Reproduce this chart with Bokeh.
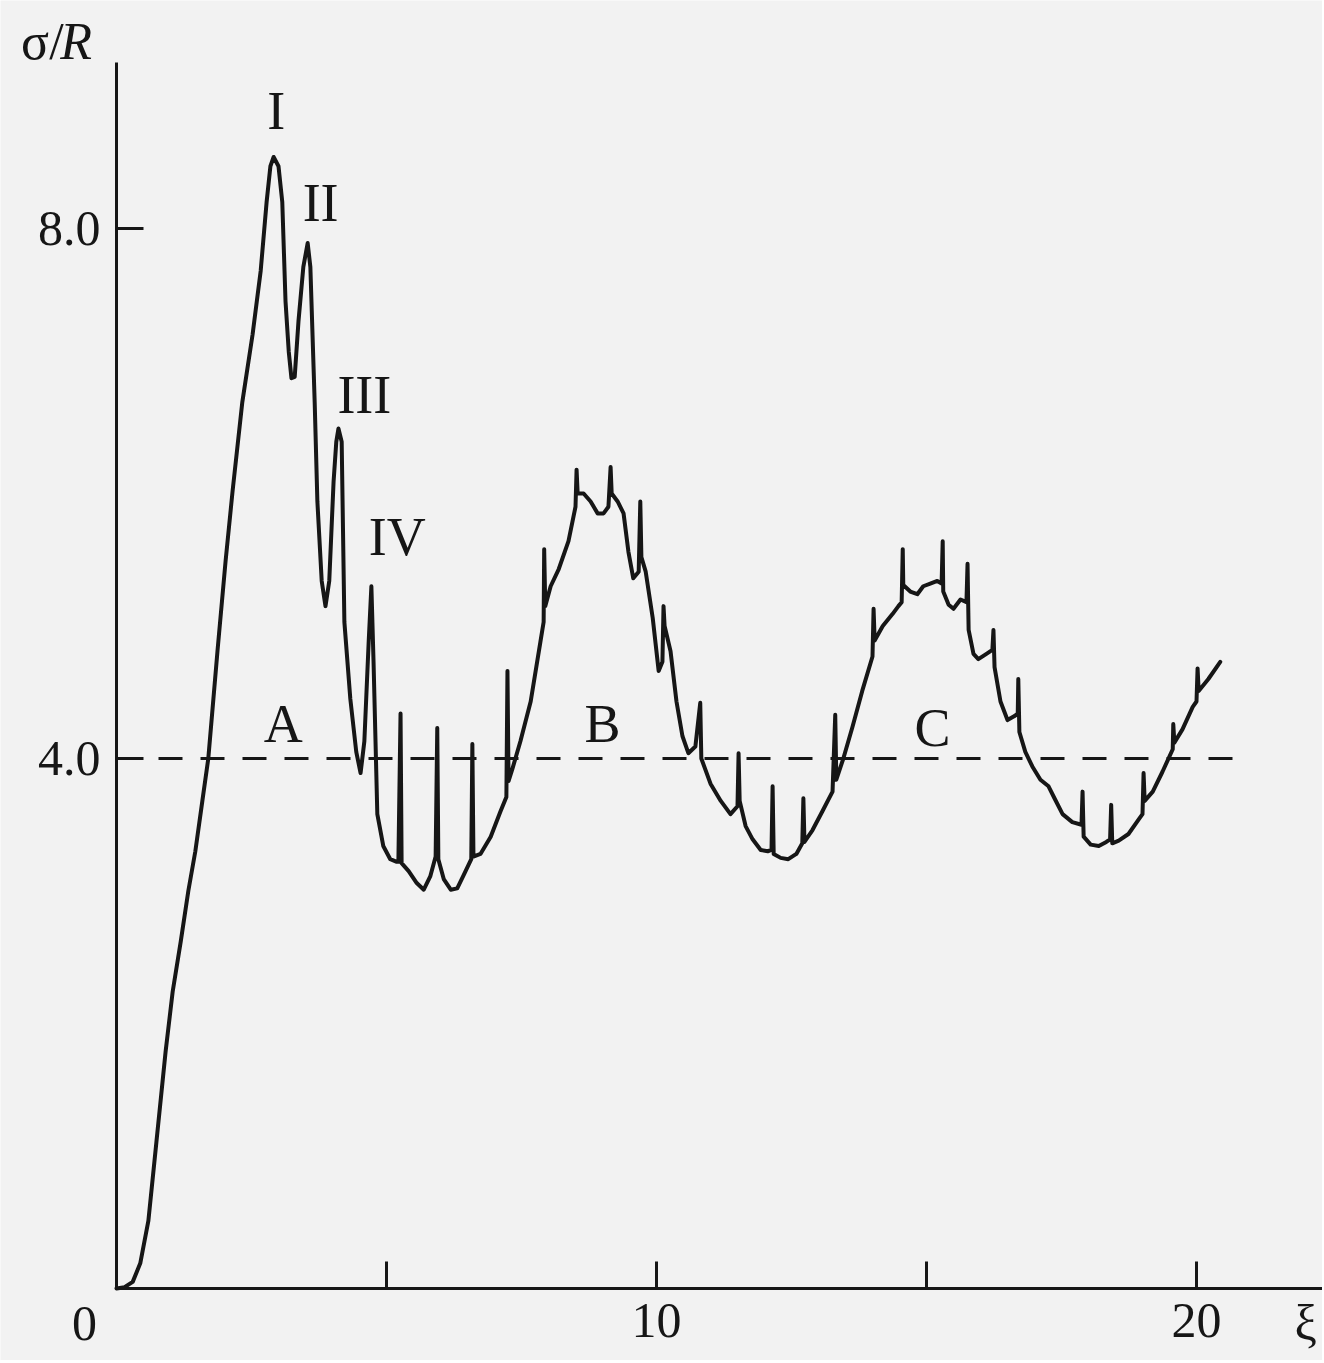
from bokeh.plotting import figure
from bokeh.models import Label, FixedTicker, Range1d, LinearAxis
from bokeh.embed import file_html
from bokeh.resources import INLINE

# ---- data (xi, sigma/R) ----
rise_x = [0, 0.15, 0.30, 0.44, 0.59, 0.74, 0.91, 1.04, 1.19, 1.33, 1.46, 1.59, 1.70, 1.87, 2.02, 2.15, 2.33, 2.52, 2.67, 2.78, 2.85, 2.91]
rise_y = [0, 0.01, 0.05, 0.19, 0.51, 1.11, 1.79, 2.24, 2.62, 3.00, 3.30, 3.68, 4.00, 4.81, 5.49, 6.02, 6.69, 7.20, 7.68, 8.20, 8.47, 8.54]

peaks_x = [3.00, 3.07, 3.13, 3.19, 3.24, 3.30, 3.37, 3.46, 3.54, 3.59, 3.67, 3.72, 3.80, 3.87, 3.94, 4.02, 4.07, 4.11, 4.17, 4.22, 4.33, 4.44, 4.52, 4.59, 4.67, 4.72]
peaks_y = [8.47, 8.20, 7.45, 7.07, 6.87, 6.88, 7.30, 7.71, 7.89, 7.71, 6.69, 5.94, 5.34, 5.15, 5.34, 6.09, 6.39, 6.49, 6.39, 5.03, 4.45, 4.05, 3.89, 4.13, 4.88, 5.30]

trough_a_x = [4.76, 4.83, 4.94, 5.07, 5.19, 5.22, 5.26, 5.28, 5.41, 5.56, 5.69, 5.81, 5.91, 5.94, 5.96, 6.06, 6.19, 6.31, 6.44, 6.57, 6.59, 6.61, 6.74, 6.93, 7.11, 7.22, 7.24, 7.26, 7.33, 7.48, 7.67, 7.85, 7.91, 7.92, 7.94]
trough_a_y = [4.73, 3.58, 3.34, 3.24, 3.22, 3.22, 4.34, 3.21, 3.15, 3.06, 3.01, 3.11, 3.26, 4.23, 3.24, 3.09, 3.01, 3.02, 3.13, 3.24, 4.11, 3.26, 3.28, 3.41, 3.60, 3.71, 4.66, 3.83, 3.92, 4.13, 4.43, 4.88, 5.03, 5.58, 5.15]

hump_b_x = [8.04, 8.19, 8.37, 8.50, 8.52, 8.54, 8.65, 8.78, 8.91, 9.02, 9.11, 9.15, 9.17, 9.28, 9.39, 9.48, 9.57, 9.67, 9.70, 9.72, 9.80, 9.93, 10.04, 10.11, 10.13, 10.15, 10.26, 10.37, 10.48, 10.59, 10.72, 10.81, 10.83, 11.00]
hump_b_y = [5.30, 5.43, 5.64, 5.90, 6.18, 6.00, 6.00, 5.94, 5.85, 5.85, 5.90, 6.20, 6.00, 5.94, 5.85, 5.56, 5.36, 5.41, 5.94, 5.52, 5.41, 5.06, 4.66, 4.73, 5.15, 5.00, 4.81, 4.43, 4.17, 4.04, 4.09, 4.42, 4.00, 3.81]

trough_b_x = [11.19, 11.37, 11.50, 11.52, 11.54, 11.65, 11.78, 11.93, 12.06, 12.13, 12.15, 12.17, 12.30, 12.44, 12.59, 12.70, 12.72, 12.74, 12.89, 13.07, 13.26, 13.31, 13.33, 13.46, 13.63, 13.81, 14.00, 14.02, 14.04]
trough_b_y = [3.68, 3.58, 3.64, 4.04, 3.68, 3.49, 3.39, 3.31, 3.30, 3.31, 3.79, 3.28, 3.25, 3.24, 3.28, 3.36, 3.70, 3.37, 3.46, 3.60, 3.75, 4.33, 3.84, 4.00, 4.24, 4.51, 4.77, 5.13, 4.89]

hump_c_x = [14.19, 14.37, 14.48, 14.54, 14.56, 14.57, 14.70, 14.83, 14.94, 15.07, 15.20, 15.28, 15.30, 15.31, 15.41, 15.50, 15.63, 15.74, 15.76, 15.78, 15.87, 15.96, 16.11, 16.22, 16.24, 16.26, 16.37, 16.50, 16.63, 16.69, 16.70, 16.72, 16.83, 16.96]
hump_c_y = [5.00, 5.09, 5.15, 5.18, 5.58, 5.31, 5.26, 5.24, 5.30, 5.32, 5.34, 5.32, 5.64, 5.26, 5.16, 5.13, 5.20, 5.18, 5.47, 4.97, 4.79, 4.75, 4.79, 4.82, 4.97, 4.69, 4.43, 4.29, 4.32, 4.34, 4.60, 4.20, 4.05, 3.94]

trough_c_x = [17.11, 17.26, 17.37, 17.52, 17.70, 17.87, 17.89, 17.91, 18.04, 18.19, 18.33, 18.40, 18.42, 18.44, 18.56, 18.74, 18.93, 19.00, 19.02, 19.04, 19.19, 19.37, 19.56, 19.57, 19.59, 19.74, 19.93, 20.00, 20.02, 20.04, 20.22, 20.44]
trough_c_y = [3.84, 3.79, 3.70, 3.58, 3.52, 3.50, 3.75, 3.41, 3.35, 3.34, 3.37, 3.39, 3.65, 3.36, 3.38, 3.43, 3.54, 3.58, 3.89, 3.68, 3.75, 3.90, 4.07, 4.26, 4.12, 4.22, 4.39, 4.43, 4.68, 4.51, 4.60, 4.73]

level_value = 4.0
level_x = [0, 21.0]

x_ticks = [5, 10, 15, 20]
x_tick_text = {5: "", 10: "10", 15: "", 20: "20"}
y_ticks = [4, 8]
y_tick_text = {4: "4.0", 8: "8.0"}

peak_names = ["I", "II", "III", "IV"]
peak_name_x = [2.96, 3.78, 4.59, 5.20]
peak_name_y = [8.89, 8.19, 6.74, 5.67]

zone_names = ["A", "B", "C"]
zone_name_x = [3.09, 9.00, 15.11]
zone_name_y = [4.26, 4.26, 4.23]

# ---- figure: the frame fills the canvas; axes are pinned at 0 ----
INK = "#161616"
PAPER = "#f2f2f2"
SERIF = "Liberation Serif"

W, H = 1322, 1360
X0, Y0 = 116, 1288          # pixel position of the origin
SX, SY = 54.0, 132.5        # pixels per unit
p = figure(width=W, height=H, output_backend="svg", toolbar_location=None,
           x_axis_type=None, y_axis_type=None,
           x_range=Range1d(-X0 / SX, (W - X0) / SX),
           y_range=Range1d(-(H - Y0) / SY, Y0 / SY),
           min_border_left=0, min_border_right=0, min_border_top=0, min_border_bottom=0)
p.background_fill_color = PAPER
p.border_fill_color = PAPER
p.outline_line_color = None
p.grid.visible = False

curve_x = rise_x + peaks_x + trough_a_x + hump_b_x + trough_b_x + hump_c_x + trough_c_x
curve_y = rise_y + peaks_y + trough_a_y + hump_b_y + trough_b_y + hump_c_y + trough_c_y

p.line(level_x, [level_value] * len(level_x), line_color=INK, line_width=3, line_dash="24 18")
p.line(curve_x, curve_y, line_color=INK, line_width=4, line_join="round", line_cap="round")

xax = LinearAxis(fixed_location=0, bounds=(0, (W - X0) / SX), ticker=FixedTicker(ticks=x_ticks),
                 major_label_overrides=x_tick_text, major_label_standoff=15)
yax = LinearAxis(fixed_location=0, bounds=(0, 9.25), ticker=FixedTicker(ticks=y_ticks),
                 major_label_overrides=y_tick_text, major_label_standoff=16)
for ax in (xax, yax):
    ax.axis_line_color = INK
    ax.axis_line_width = 3
    ax.major_tick_line_color = INK
    ax.major_tick_line_width = 3
    ax.major_tick_in = 27
    ax.major_tick_out = 0
    ax.minor_tick_line_color = None
    ax.major_label_text_font = SERIF
    ax.major_label_text_font_size = "50px"
    ax.major_label_text_color = INK
p.add_layout(xax, "below")
p.add_layout(yax, "left")

for name, x, y in zip(peak_names + zone_names, peak_name_x + zone_name_x, peak_name_y + zone_name_y):
    p.add_layout(Label(x=x, y=y, text=name, text_align="center", text_baseline="alphabetic",
                       text_font=SERIF, text_font_size="54px", text_color=INK))

p.add_layout(Label(x=-0.593, y=-0.264, text="0", text_align="center", text_baseline="alphabetic",
                   text_font=SERIF, text_font_size="50px", text_color=INK))
p.add_layout(Label(x=22.02, y=-0.264, text="ξ", text_align="center", text_baseline="alphabetic",
                   text_font=SERIF, text_font_size="50px", text_color=INK))
p.add_layout(Label(x=-0.98, y=9.41, text="σ/", text_align="right", text_baseline="alphabetic",
                   text_font=SERIF, text_font_size="52px", text_color=INK))
p.add_layout(Label(x=-1.04, y=9.41, text="R", text_align="left", text_baseline="alphabetic",
                   text_font=SERIF, text_font_size="52px", text_font_style="italic", text_color=INK))

open("out.html", "w").write(file_html(p, INLINE))
